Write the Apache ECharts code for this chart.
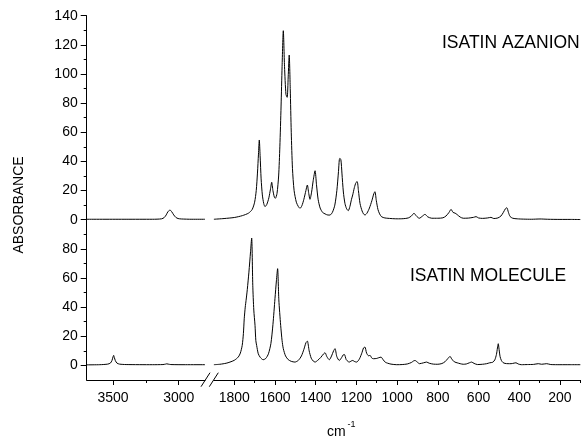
<!DOCTYPE html>
<html>
<head>
<meta charset="utf-8">
<title>Isatin IR</title>
<script src="https://cdn.jsdelivr.net/npm/echarts@6.0.0/dist/echarts.min.js"></script>
<style>
html, body { margin: 0; padding: 0; background: #fff; }
#main { width: 583px; height: 437px; }
</style>
</head>
<body>
<div id="main"></div>
<script>
// spectra, [wavenumber (cm-1), absorbance]
var azanionHigh = [
	[3700, 0.3], [3400, 0.3], [3200, 0.3], [3130, 0.6], [3110, 1.5], [3095, 3.3], [3082, 5.5],
	[3066, 6.6], [3052, 5.3], [3038, 3.3], [3022, 1.6], [3005, 0.8], [2980, 0.5], [2900, 0.3], [2800, 0.3]
];
var azanionLow = [
	[1900, 0.3], [1850, 0.8], [1800, 1.5], [1760, 2.8], [1730, 4.5], [1712, 7], [1700, 12], [1692, 20],
	[1686, 32], [1681, 45], [1677, 54.7], [1673, 44], [1668, 28], [1662, 17], [1655, 11], [1649, 9],
	[1640, 10.5], [1630, 15], [1622, 21], [1616, 25.7], [1610, 20], [1603, 15.5], [1598, 14.7], [1590, 18],
	[1582, 30], [1576, 50], [1570, 78], [1565, 105], [1559, 129.7], [1553, 105], [1546, 86], [1540, 84],
	[1535, 98], [1530, 113], [1525, 90], [1520, 60], [1514, 35], [1506, 20], [1495, 12], [1485, 9],
	[1477, 7.8], [1468, 9.5], [1458, 14], [1448, 20], [1441, 23.8], [1434, 18], [1428, 14], [1420, 19],
	[1412, 27], [1403, 33.6], [1396, 24], [1388, 14], [1378, 8], [1366, 5], [1354, 4], [1340, 3.2],
	[1330, 3.2], [1318, 5], [1306, 10], [1296, 20], [1288, 33], [1284, 41], [1281, 42.1], [1276, 41],
	[1271, 32], [1264, 19], [1256, 11], [1248, 7.5], [1240, 6.2], [1232, 9], [1224, 14], [1218, 17],
	[1210, 22], [1202, 25.5], [1196, 26.1], [1190, 20], [1182, 11], [1172, 6], [1165, 4], [1158, 3.2],
	[1148, 4.5], [1136, 8], [1124, 13], [1114, 18], [1109, 19.2], [1102, 13], [1094, 7], [1086, 4],
	[1076, 2], [1060, 1.2], [1030, 0.8], [1000, 0.6], [970, 0.7], [945, 1.2], [930, 2.5], [917, 4.4],
	[905, 2.5], [891, 1], [875, 2.5], [863, 3.7], [850, 2], [830, 1], [800, 1], [775, 1.3], [760, 2.5],
	[745, 5], [735, 7.1], [725, 5], [715, 4.5], [705, 3.5], [690, 1.8], [675, 1], [650, 1.1], [625, 1.6],
	[612, 2.1], [600, 1.2], [580, 0.9], [555, 1.2], [539, 1.6], [525, 0.8], [505, 1.2], [490, 2.5],
	[478, 5], [468, 7.5], [461, 8.2], [453, 5], [445, 2.2], [432, 1], [410, 0.6], [380, 0.4], [340, 0.3],
	[298, 0.5], [260, 0.3], [200, 0.2], [150, 0.2], [100, 0.1]
];
var moleculeHigh = [
	[3700, 0.4], [3600, 0.5], [3540, 0.9], [3520, 1.6], [3508, 3.3], [3500, 5.8], [3495, 6.9], [3490, 5.5],
	[3482, 3.3], [3470, 1.6], [3450, 0.9], [3400, 0.6], [3200, 0.5], [3120, 0.6], [3100, 0.9], [3091, 1.1],
	[3080, 0.9], [3060, 0.6], [2950, 0.5], [2800, 0.5]
];
var moleculeLow = [
	[1900, 0.5], [1870, 0.8], [1840, 1.5], [1821, 2.3], [1800, 3.5], [1780, 5.8], [1770, 8.5], [1761, 13.7],
	[1755, 22], [1751, 32], [1746, 40], [1742, 44.6], [1736, 52], [1728, 64], [1720, 78], [1714.5, 87.4],
	[1709, 55], [1704, 38], [1698, 27.5], [1694, 17], [1690, 13.7], [1682, 8], [1672, 5.5], [1658, 3.9],
	[1645, 4.8], [1632, 8], [1620, 15], [1610, 28], [1600, 45.8], [1593, 58], [1587, 66.4], [1581, 45],
	[1572, 27.5], [1565, 17], [1559, 11.5], [1548, 6.5], [1535, 4], [1520, 2.8], [1502, 2.3], [1485, 3.5],
	[1470, 6.5], [1458, 11], [1448, 15.5], [1441, 16.7], [1432, 10], [1422, 5], [1412, 3], [1403, 2.3],
	[1390, 3.5], [1375, 5.5], [1362, 7.8], [1354, 8.7], [1345, 6], [1333, 3.9], [1322, 6.5], [1312, 10],
	[1305, 11.5], [1296, 6], [1284, 3.4], [1272, 5.5], [1265, 7.2], [1259, 7.5], [1250, 4], [1240, 2.6],
	[1235, 2.3], [1226, 3], [1218, 3.4], [1208, 2.6], [1199, 2.3], [1185, 4.5], [1172, 9], [1165, 12],
	[1158, 12.6], [1150, 8.5], [1140, 6.6], [1133, 6.9], [1124, 5], [1116, 4.6], [1100, 4.8], [1090, 5.3],
	[1079, 5.7], [1068, 3.8], [1058, 2.2], [1048, 1.6], [1030, 0.9], [1002, 0.5], [975, 0.6], [950, 1],
	[930, 2], [920, 3], [912, 3.4], [900, 2.2], [890, 1.2], [870, 1.8], [855, 2.3], [842, 1.5], [822, 0.9],
	[800, 0.8], [780, 1.3], [765, 2.5], [752, 4.5], [740, 6.2], [730, 4], [716, 2.3], [705, 1.8], [690, 1.2],
	[675, 0.8], [660, 1], [645, 1.8], [634, 2.3], [622, 1.4], [605, 0.6], [580, 0.8], [560, 1.2], [545, 1.8],
	[530, 2.2], [520, 3.8], [512, 7.5], [507, 12], [503, 14.9], [499, 11], [494, 6], [488, 3.5], [480, 2],
	[470, 1.4], [455, 1.2], [440, 1.2], [425, 1.6], [416, 1.8], [405, 1], [390, 0.5], [360, 0.6], [330, 0.7],
	[306, 1.2], [290, 0.8], [265, 1.2], [245, 0.6], [200, 0.5], [150, 0.5], [100, 0.5]
];

// tick values
var highTicks = [3500, 3000];
var highMinor = [3250];
var lowTicks = [1800, 1600, 1400, 1200, 1000, 800, 600, 400, 200];
var lowMinor = [1700, 1500, 1300, 1100, 900, 700, 500, 300, 100];
var azanionTicks = [0, 20, 40, 60, 80, 100, 120, 140];
var azanionMinor = [10, 30, 50, 70, 90, 110, 130];
var moleculeTicks = [0, 20, 40, 60, 80];
var moleculeMinor = [10, 30, 50, 70, 90];

var FONT = 'Arial, "Liberation Sans", sans-serif';

// one axis; ticks=null gives a bare, invisible scale
function makeAxis(grid, pos, min, max, inverse, ticks, labels, tickLen, margin) {
	var shown = ticks != null;
	return {
		type: 'value',
		gridIndex: grid,
		position: pos,
		min: min,
		max: max,
		inverse: inverse,
		splitLine: { show: false },
		axisLine: { show: shown && !!labels, onZero: false, lineStyle: { color: '#000', width: 1 } },
		axisTick: {
			show: shown,
			length: tickLen || 5,
			customValues: ticks || undefined,
			lineStyle: { color: '#000', width: 1 }
		},
		axisLabel: {
			show: shown && !!labels,
			customValues: labels ? ticks : undefined,
			formatter: function (v) { return String(v); },
			color: '#000',
			fontSize: 14,
			fontFamily: FONT,
			margin: margin || 8
		}
	};
}

var myChart = echarts.init(document.getElementById('main'));

var option = {
	backgroundColor: '#fff',
	animation: false,
	grid: [
		{ left: 86.7, top: 15.7, width: 118.3, height: 204 },
		{ left: 213.9, top: 15.7, width: 366.4, height: 204 },
		{ left: 86.7, top: 219.7, width: 118.3, height: 160.3 },
		{ left: 213.9, top: 219.7, width: 366.4, height: 160.3 }
	],
	xAxis: [
		makeAxis(0, 'bottom', 2800, 3700, true, null),
		makeAxis(1, 'bottom', 100, 1900, true, null),
		makeAxis(2, 'bottom', 2800, 3700, true, highTicks, true, 5, 11),
		makeAxis(3, 'bottom', 100, 1900, true, lowTicks, true, 5, 11),
		makeAxis(2, 'bottom', 2800, 3700, true, highMinor, false, 3),
		makeAxis(3, 'bottom', 100, 1900, true, lowMinor, false, 3)
	],
	yAxis: [
		makeAxis(0, 'left', 0, 140, false, azanionTicks, true, 6, 9),
		makeAxis(1, 'left', 0, 140, false, null),
		makeAxis(2, 'left', -10, 100, false, moleculeTicks, true, 6, 9),
		makeAxis(3, 'left', -10, 100, false, null),
		makeAxis(0, 'left', 0, 140, false, azanionMinor, false, 3),
		makeAxis(2, 'left', -10, 100, false, moleculeMinor, false, 3)
	],
	series: [
		{ data: azanionHigh, xAxisIndex: 0, yAxisIndex: 0 },
		{ data: azanionLow, xAxisIndex: 1, yAxisIndex: 1 },
		{ data: moleculeHigh, xAxisIndex: 2, yAxisIndex: 2 },
		{ data: moleculeLow, xAxisIndex: 3, yAxisIndex: 3 }
	].map(function (s) {
		s.type = 'line';
		s.showSymbol = false;
		s.smooth = 0.25;
		s.lineStyle = { color: '#000', width: 1 };
		return s;
	}),
	graphic: [
		{ type: 'text', x: 19, y: 205, rotation: Math.PI / 2,
			style: { text: 'ABSORBANCE', fill: '#000', font: '14px ' + FONT, align: 'center', verticalAlign: 'middle' } },
		{ type: 'text', x: 442, y: 43,
			style: { text: 'ISATIN AZANION', fill: '#000', font: '17.5px ' + FONT, align: 'left', verticalAlign: 'middle' } },
		{ type: 'text', x: 410, y: 276,
			style: { text: 'ISATIN MOLECULE', fill: '#000', font: '17.5px ' + FONT, align: 'left', verticalAlign: 'middle' } },
		{ type: 'text', x: 327, y: 432,
			style: { text: 'cm', fill: '#000', font: '14px ' + FONT, align: 'left', verticalAlign: 'middle' } },
		{ type: 'text', x: 347.5, y: 425,
			style: { text: '-1', fill: '#000', font: '9px ' + FONT, align: 'left', verticalAlign: 'middle' } },
		// axis break marks
		{ type: 'line', shape: { x1: 201, y1: 386.7, x2: 210, y2: 372.7 }, style: { stroke: '#000', lineWidth: 1 } },
		{ type: 'line', shape: { x1: 209.3, y1: 386.7, x2: 218.3, y2: 372.7 }, style: { stroke: '#000', lineWidth: 1 } }
	]
};
myChart.setOption(option);
window.addEventListener('resize', function () {
	myChart.resize();
});
</script>
</body>
</html>
